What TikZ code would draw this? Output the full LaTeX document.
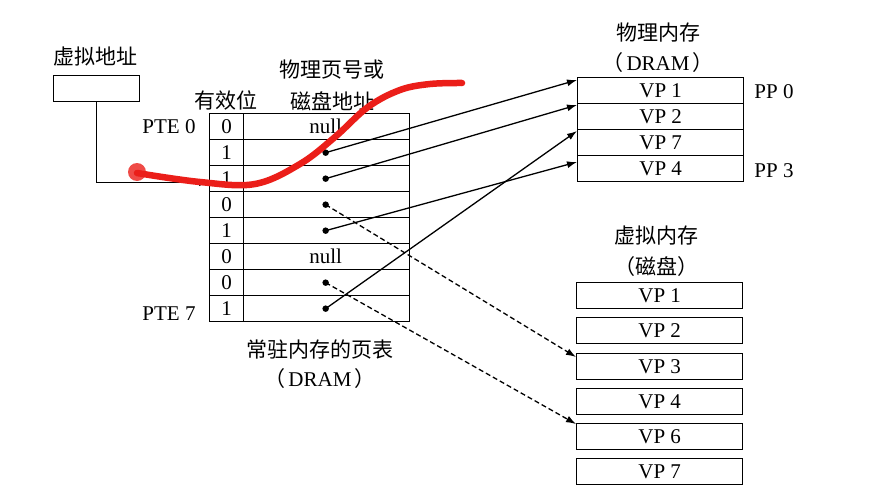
\documentclass[tikz,border=0pt]{standalone}
\usepackage{fontspec}
\setmainfont{Liberation Serif}
\newfontfamily\cjk{Noto Sans CJK SC}
\usetikzlibrary{arrows.meta}
\begin{document}
\begin{tikzpicture}[x=1pt,y=-1pt,
  every node/.style={font=\fontsize{21}{24}\selectfont},
  cell/.style={draw,line width=1.3pt,inner sep=0pt,anchor=north west,minimum height=26pt},
  vcell/.style={cell,minimum width=34pt},
  acell/.style={cell,minimum width=166pt},
  mem/.style={cell,minimum width=166pt},
  lbl/.style={inner sep=0pt},
  dotn/.style={circle,fill=black,inner sep=0pt,minimum size=6.5pt},
  conn/.style={line width=1.3pt,-{Latex[length=10pt,width=7pt]}},
  dconn/.style={conn,dashed,dash pattern=on 5pt off 3pt}]
\useasboundingbox (0,0) rectangle (874,503);
\fill[white] (0,0) rectangle (874,503);

% virtual address
\node[lbl] (valbl) at (95,57) {\cjk 虚拟地址};
\node[draw,line width=1.3pt,inner sep=0pt,minimum width=86pt,minimum height=26pt,anchor=north west] (vabox) at (53,75) {};

% page table
\foreach \i/\v in {0/0,1/1,2/1,3/0,4/1,5/0,6/0,7/1}{
  \node[vcell] (v\i) at (209,{113+26*\i}) {\v};
  \node[acell] (a\i) at (243,{113+26*\i}) {};
}
\node at (a0.center) [xshift=-1pt] {null};
\node at (a5.center) [xshift=-1pt] {null};
\foreach \i in {1,2,3,4,6,7}{
  \node[dotn] (d\i) at ([xshift=-1pt]a\i.center) {};
}
\node[lbl] (vbitlbl) at (226,100) {\cjk 有效位};
\node[lbl] (addrlbl1) at (332,70) {\cjk 物理页号或};
\node[lbl] (addrlbl2) at (332,101) {\cjk 磁盘地址};
\node[lbl] (pte0) at (169,127) {PTE 0};
\node[lbl] (pte7) at (169,314) {PTE 7};
\node[lbl] (ptlbl1) at (320,350) {\cjk 常驻内存的页表};
\node[lbl] (ptlbl2) at (320,379) {{\cjk （}\hspace{3pt}DRAM\hspace{3pt}{\cjk ）}};

% physical memory
\node[lbl] (pmlbl1) at (658,33) {\cjk 物理内存};
\node[lbl] (pmlbl2) at (658,63) {{\cjk （}\hspace{3pt}DRAM\hspace{3pt}{\cjk ）}};
\foreach \i/\t in {0/1,1/2,2/7,3/4}{
  \node[mem] (p\i) at (577,{77+26*\i}) {VP \t};
}
\node[lbl] (pp0) at (774,92) {PP 0};
\node[lbl] (pp3) at (774,171) {PP 3};

% virtual memory (disk)
\node[lbl] (vmlbl1) at (656,236) {\cjk 虚拟内存};
\node[lbl] (vmlbl2) at (656,267) {{\cjk （}\cjk 磁盘{\cjk ）}};
\foreach \i/\t/\y in {1/1/282,2/2/317,3/3/353,4/4/388,5/6/423,6/7/458}{
  \node[mem] (k\i) at (576,\y) {VP \t};
}

% connectors
\draw[line width=1.3pt,-{Latex[length=10pt,width=7pt]}] (vabox.south) |- ([yshift=-4pt]v2.west);
\draw[conn] (d1.center) -- ([yshift=-3pt]p0.north west);
\draw[conn] (d2.center) -- ([yshift=-2pt]p1.north west);
\draw[conn] (d4.center) -- ([yshift=-7pt]p3.north west);
\draw[conn] (d7.center) -- ([yshift=-2pt]p2.north west);
\draw[dconn] (d3.center) -- ([yshift=-4pt]k3.north west);
\draw[dconn] (d6.center) -- ([yshift=-1pt]k5.north west);

% red hand-drawn annotation
\definecolor{annot}{RGB}{235,30,25}
\fill[annot!80] (137,172) circle (9pt);
\draw[annot,line width=6.5pt,line cap=round,line join=round]
  plot[smooth,tension=0.6] coordinates {(137,173) (200,182) (255,184) (300,164) (335,137) (368,107) (400,90) (430,84) (462,83)};
\end{tikzpicture}
\end{document}
